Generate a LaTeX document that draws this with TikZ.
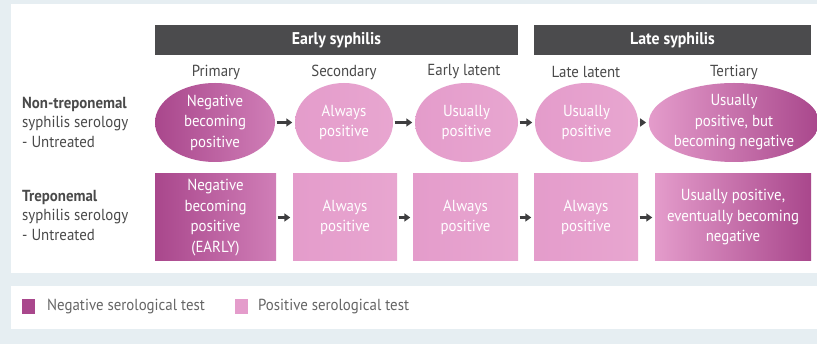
\documentclass[tikz,border=0pt]{standalone}
\usepackage{fontspec}
\setmainfont{PT Sans}[FakeStretch=0.93]
\usetikzlibrary{shapes.geometric,arrows.meta}
\definecolor{pagebg}{HTML}{E6EEF2}
\definecolor{hdr}{HTML}{4B4B4D}
\definecolor{labelgray}{HTML}{4A4A4A}
\definecolor{negdark}{HTML}{A9478C}
\definecolor{negmid}{HTML}{D07EB7}
\definecolor{pos}{HTML}{E49CCB}
\definecolor{posl}{HTML}{E8A6D0}
\definecolor{arrowgray}{HTML}{3E3E40}
\tikzset{
  header/.style={fill=hdr, text=white, font=\fontsize{17}{19}\selectfont\bfseries, minimum height=30pt, inner sep=0pt},
  colhead/.style={text=labelgray, font=\fontsize{16}{18}\selectfont, inner sep=0pt},
  rowlabel/.style={text=labelgray, font=\fontsize{16}{19.5}\selectfont, align=left, anchor=west, inner sep=0pt},
  stage/.style={text=white, font=\fontsize{16}{20.5}\selectfont, align=center, inner sep=0pt},
  ell/.style={stage, ellipse, minimum height=79pt},
  sq/.style={stage, rectangle, minimum height=87pt},
  posfill/.style={left color=pos, right color=posl},
  negleft/.style={left color=negdark, right color=negmid},
  negright/.style={left color=pos, right color=negdark},
  arr/.style={draw=arrowgray, line width=2.4pt, -{Triangle[length=6pt,width=8pt]}, shorten <=1.5pt, shorten >=2.5pt},
  legtext/.style={text=labelgray!85, font=\fontsize{16}{18}\selectfont, anchor=west, inner sep=0pt},
  legkey/.style={minimum width=13pt, minimum height=15pt, inner sep=0pt},
}
\begin{document}
\begin{tikzpicture}[x=1pt,y=-1pt]
  % page and panels
  \fill[pagebg] (0,0) rectangle (817,344);
  \useasboundingbox (0,0) rectangle (817,344);
  \fill[white] (11,4) rectangle (817,273);
  \fill[white] (11,286) rectangle (817,329);

  % period headers
  \node[header, minimum width=363pt] (early) at (336.5,40) {Early syphilis};
  \node[header, minimum width=277pt] (late) at (672.5,40) {Late syphilis};

  % stage names
  \node[colhead] (c1) at (216,72) {Primary};
  \node[colhead] (c2) at (344,72) {Secondary};
  \node[colhead] (c3) at (464,72) {Early latent};
  \node[colhead] (c4) at (586,72) {Late latent};
  \node[colhead] (c5) at (734,72) {Tertiary};

  % row labels
  \node[rowlabel] (r1) at (22,122) {\textbf{Non-treponemal}\\syphilis serology\\- Untreated};
  \node[rowlabel] (r2) at (22,215) {\textbf{Treponemal}\\syphilis serology\\- Untreated};

  % non-treponemal serology
  \node[ell, negleft, minimum width=120pt] (e1) at (215,122.5) {Negative\\becoming\\positive};
  \node[ell, posfill, minimum width=98pt] (e2) at (344,122.5) {Always\\positive};
  \node[ell, posfill, minimum width=103pt] (e3) at (466.5,122.5) {Usually\\positive};
  \node[ell, posfill, minimum width=103pt] (e4) at (586.5,122.5) {Usually\\positive};
  \node[ell, negright, minimum width=154pt] (e5) at (734,122.5) {Usually\\positive, but\\becoming negative};

  % treponemal serology
  \node[sq, negleft, minimum width=121pt] (b1) at (215.5,217.5) {Negative\\becoming\\positive\\(EARLY)};
  \node[sq, posfill, minimum width=104pt] (b2) at (345,217.5) {Always\\positive};
  \node[sq, posfill, minimum width=105pt] (b3) at (465.5,217.5) {Always\\positive};
  \node[sq, posfill, minimum width=104pt] (b4) at (586,217.5) {Always\\positive};
  \node[sq, negright, minimum width=156pt] (b5) at (733,217.5) {Usually positive,\\eventually becoming\\negative};

  % progression arrows
  \draw[arr] (e1) -- (e2);
  \draw[arr] (e2) -- (e3);
  \draw[arr] (e3) -- (e4);
  \draw[arr] (e4) -- (e5);
  \draw[arr] (b1) -- (b2);
  \draw[arr] (b2) -- (b3);
  \draw[arr] (b3) -- (b4);
  \draw[arr] (b4) -- (b5);

  % legend
  \node[legkey, fill=negdark] (k1) at (28.5,307) {};
  \node[legtext] (t1) at (47,307) {Negative serological test};
  \node[legkey, fill=pos] (k2) at (241,307) {};
  \node[legtext] (t2) at (258,307) {Positive serological test};
\end{tikzpicture}
\end{document}
